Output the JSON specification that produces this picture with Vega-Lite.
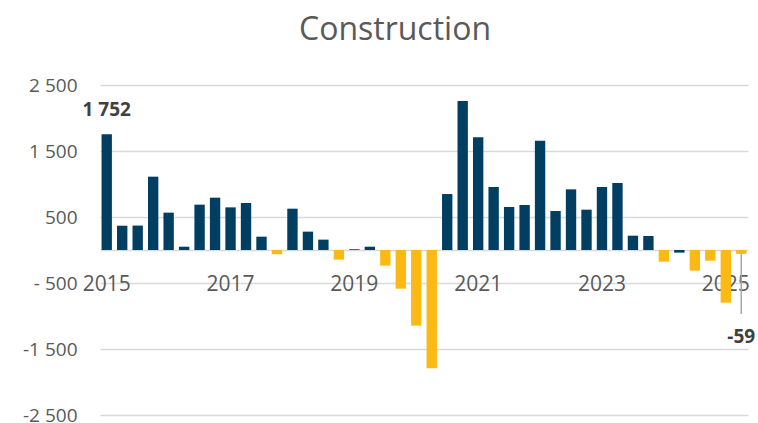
{
  "$schema": "https://vega.github.io/schema/vega-lite/v6.json",
  "autosize": {"type": "none"},
  "padding": {"left": 100, "top": 85, "right": 10, "bottom": 8},
  "width": 648,
  "height": 330,
  "background": "white",
  "config": {"view": {"stroke": null}, "font": "Open Sans"},
  "title": {
    "text": "Construction",
    "font": "Open Sans",
    "fontSize": 32,
    "fontWeight": "normal",
    "color": "#595959",
    "anchor": "middle",
    "frame": "group",
    "dx": -29,
    "baseline": "alphabetic",
    "offset": 4
  },
  "data": {
    "values": [
      {"period": "2015Q1", "value": 1752, "sign": "pos", "label": "1 752"},
      {"period": "2015Q2", "value": 368, "sign": "pos"},
      {"period": "2015Q3", "value": 370, "sign": "pos"},
      {"period": "2015Q4", "value": 1111, "sign": "pos"},
      {"period": "2016Q1", "value": 566, "sign": "pos"},
      {"period": "2016Q2", "value": 50, "sign": "pos"},
      {"period": "2016Q3", "value": 687, "sign": "pos"},
      {"period": "2016Q4", "value": 793, "sign": "pos"},
      {"period": "2017Q1", "value": 646, "sign": "pos"},
      {"period": "2017Q2", "value": 712, "sign": "pos"},
      {"period": "2017Q3", "value": 202, "sign": "pos"},
      {"period": "2017Q4", "value": -65, "sign": "neg"},
      {"period": "2018Q1", "value": 626, "sign": "pos"},
      {"period": "2018Q2", "value": 278, "sign": "pos"},
      {"period": "2018Q3", "value": 157, "sign": "pos"},
      {"period": "2018Q4", "value": -146, "sign": "neg"},
      {"period": "2019Q1", "value": 12, "sign": "pos"},
      {"period": "2019Q2", "value": 50, "sign": "pos"},
      {"period": "2019Q3", "value": -237, "sign": "neg"},
      {"period": "2019Q4", "value": -586, "sign": "neg"},
      {"period": "2020Q1", "value": -1147, "sign": "neg"},
      {"period": "2020Q2", "value": -1793, "sign": "neg"},
      {"period": "2020Q3", "value": 848, "sign": "pos"},
      {"period": "2020Q4", "value": 2258, "sign": "pos"},
      {"period": "2021Q1", "value": 1707, "sign": "pos"},
      {"period": "2021Q2", "value": 955, "sign": "pos"},
      {"period": "2021Q3", "value": 652, "sign": "pos"},
      {"period": "2021Q4", "value": 682, "sign": "pos"},
      {"period": "2022Q1", "value": 1657, "sign": "pos"},
      {"period": "2022Q2", "value": 591, "sign": "pos"},
      {"period": "2022Q3", "value": 919, "sign": "pos"},
      {"period": "2022Q4", "value": 611, "sign": "pos"},
      {"period": "2023Q1", "value": 955, "sign": "pos"},
      {"period": "2023Q2", "value": 1015, "sign": "pos"},
      {"period": "2023Q3", "value": 217, "sign": "pos"},
      {"period": "2023Q4", "value": 212, "sign": "pos"},
      {"period": "2024Q1", "value": -177, "sign": "neg"},
      {"period": "2024Q2", "value": -40, "sign": "pos"},
      {"period": "2024Q3", "value": -313, "sign": "neg"},
      {"period": "2024Q4", "value": -162, "sign": "neg"},
      {"period": "2025Q1", "value": -798, "sign": "neg"},
      {"period": "2025Q2", "value": -59, "sign": "neg", "label": "-59"}
    ]
  },
  "encoding": {
    "x": {
      "field": "period",
      "type": "ordinal",
      "sort": null,
      "scale": {"paddingInner": 0.33, "paddingOuter": 0.1},
      "axis": {
        "title": null,
        "values": ["2015Q1", "2017Q1", "2019Q1", "2021Q1", "2023Q1", "2025Q1"],
        "labelExpr": "substring(datum.value, 0, 4)",
        "labelAngle": 0,
        "ticks": false,
        "offset": -165,
        "domain": true,
        "domainColor": "#d9d9d9",
        "domainWidth": 1.5,
        "labelPadding": 23,
        "labelFontSize": 21,
        "labelColor": "#595959",
        "labelFont": "Open Sans",
        "zindex": 0
      }
    }
  },
  "layer": [
    {
      "mark": {"type": "bar"},
      "encoding": {
        "y": {
          "field": "value",
          "type": "quantitative",
          "scale": {"domain": [-2500, 2500], "nice": false},
          "axis": {
            "title": null,
            "values": [-2500, -1500, -500, 500, 1500, 2500],
            "labelExpr": "datum.value == 2500 ? '2 500' : datum.value == 1500 ? '1 500' : datum.value == 500 ? '500' : datum.value == -500 ? '- 500' : datum.value == -1500 ? '-1 500' : '-2 500'",
            "ticks": false,
            "domain": false,
            "gridColor": "#d9d9d9",
            "gridWidth": 1.5,
            "labelPadding": 23,
            "labelFontSize": 19,
            "labelColor": "#595959",
            "labelFont": "Open Sans"
          }
        },
        "color": {
          "field": "sign",
          "type": "nominal",
          "scale": {"domain": ["pos", "neg"], "range": ["#003f62", "#fdb913"]},
          "legend": null
        }
      }
    },
    {
      "transform": [{"filter": "datum.period == '2025Q2'"}],
      "mark": {"type": "rule", "color": "#a6a6a6", "strokeWidth": 1.5},
      "encoding": {
        "y": {"field": "value", "type": "quantitative"},
        "y2": {"datum": -970}
      }
    },
    {
      "transform": [{"filter": "datum.label && datum.value > 0"}],
      "mark": {"type": "text", "baseline": "alphabetic", "dy": -18, "fontWeight": "bold", "fontSize": 19, "color": "#404040", "font": "Open Sans"},
      "encoding": {
        "y": {"field": "value", "type": "quantitative"},
        "text": {"field": "label"}
      }
    },
    {
      "transform": [{"filter": "datum.label && datum.value < 0"}],
      "mark": {"type": "text", "baseline": "alphabetic", "dy": 89, "fontWeight": "bold", "fontSize": 19, "color": "#404040", "font": "Open Sans"},
      "encoding": {
        "y": {"field": "value", "type": "quantitative"},
        "text": {"field": "label"}
      }
    }
  ]
}
